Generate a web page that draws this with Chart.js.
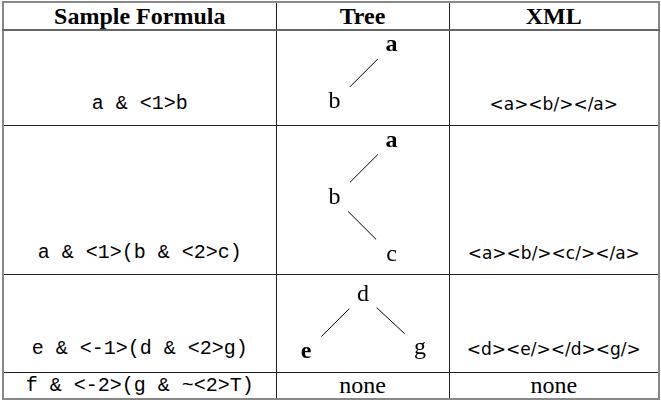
<!DOCTYPE html>
<html>
<head>
<meta charset="utf-8">
<script src="https://cdn.jsdelivr.net/npm/chart.js@4.4.1/dist/chart.umd.min.js"></script>
<style>
    html, body { margin: 0; padding: 0; background: #fff; }
    body { width: 661px; height: 402px; position: relative; overflow: hidden; }
    table.formulas {
        position: absolute; left: 2px; top: 1px;
        border-collapse: collapse; table-layout: fixed;
        border: 2px solid #888;
    }
    table.formulas td, table.formulas th {
        padding: 0; border: 1px solid #222; text-align: center; position: relative;
    }
    table.formulas th {
        font: bold 24px "Liberation Serif", "Times New Roman", serif;
        height: 26px; line-height: 26px; border-bottom: 2px solid #666; vertical-align: middle;
    }
    table.formulas tr:nth-child(2) { height: 95px; }
    table.formulas tr:nth-child(3) { height: 149px; }
    table.formulas tr:nth-child(4) { height: 98px; }
    table.formulas tr:nth-child(5) { height: 27px; }
    table.formulas td.formula { font: 20px "Liberation Mono", monospace; white-space: pre; }
    table.formulas td.xml { font: 17px "DejaVu Sans", sans-serif; white-space: pre; }
    table.formulas td.bottom { vertical-align: bottom; padding-bottom: 11px; line-height: 20px; }
    table.formulas tr:nth-child(4) td.bottom { padding-bottom: 13px; }
    table.formulas td.none { font: 24px "Liberation Serif", serif; line-height: 24px; }
    table.formulas td.tree canvas { position: absolute; left: 0; top: 0; }
</style>
</head>
<body>
<table class="formulas" id="formulas"></table>
<script>
// Column headers
const headers = ['Sample Formula', 'Tree', 'XML'];

// One entry per table row
const formulas = ['a & <1>b', 'a & <1>(b & <2>c)', 'e & <-1>(d & <2>g)', 'f & <-2>(g & ~<2>T)'];
const xmlOutputs = ['<a><b/></a>', '<a><b/><c/></a>', '<d><e/></d><g/>', 'none'];

// Tree nodes: label, horizontal offset, depth, parent index (-1 = root), bold
const tree1Labels = ['a', 'b'];
const tree1X = [0.5, -0.5];
const tree1Depth = [0, 1];
const tree1Parent = [-1, 0];
const tree1Bold = [true, false];

const tree2Labels = ['a', 'b', 'c'];
const tree2X = [0.5, -0.5, 0.5];
const tree2Depth = [0, 1, 2];
const tree2Parent = [-1, 0, 1];
const tree2Bold = [true, false, false];

const tree3Labels = ['d', 'e', 'g'];
const tree3X = [0, -1, 1];
const tree3Depth = [0, 1, 0.93];
const tree3Parent = [-1, 0, 0];
const tree3Bold = [false, true, false];

const trees = [
    { labels: tree1Labels, x: tree1X, depth: tree1Depth, parent: tree1Parent, bold: tree1Bold, top: -0.25 },
    { labels: tree2Labels, x: tree2X, depth: tree2Depth, parent: tree2Parent, bold: tree2Bold, top: -0.26 },
    { labels: tree3Labels, x: tree3X, depth: tree3Depth, parent: tree3Parent, bold: tree3Bold, top: -0.35 },
    null
];

const colWidths = [273, 173, 210];
const unit = 57;      // pixels per tree level
const edgeStart = 0.24, edgeEnd = 0.73;

// Build table
const esc = s => s.replace(/&/g, '&amp;').replace(/</g, '&lt;').replace(/>/g, '&gt;');
const table = document.getElementById('formulas');
let html = '<colgroup>' + colWidths.map(w => `<col style="width:${w}px">`).join('') + '</colgroup>';
html += '<tr>' + headers.map(h => `<th>${h}</th>`).join('') + '</tr>';
formulas.forEach((f, i) => {
    const last = !trees[i];
    html += '<tr>';
    html += `<td class="formula ${last ? '' : 'bottom'}">${esc(f)}</td>`;
    html += last ? '<td class="none">none</td>' : `<td class="tree"><canvas id="tree-${i}"></canvas></td>`;
    html += last ? `<td class="none">${esc(xmlOutputs[i])}</td>` : `<td class="xml bottom">${esc(xmlOutputs[i])}</td>`;
    html += '</tr>';
});
table.innerHTML = html;

const nodeLabelPlugin = {
    id: 'nodeLabels',
    afterDatasetsDraw(chart) {
        const tree = chart.options.plugins.nodeLabels.tree;
        const meta = chart.getDatasetMeta(0);
        const ctx = chart.ctx;
        ctx.save();
        ctx.fillStyle = '#000';
        ctx.textAlign = 'center';
        ctx.textBaseline = 'alphabetic';
        meta.data.forEach((pt, i) => {
            ctx.font = (tree.bold[i] ? 'bold ' : '') + '24px "Liberation Serif", serif';
            ctx.fillText(tree.labels[i], pt.x, pt.y + 6);
        });
        ctx.restore();
    }
};

function drawTree(i) {
    const tree = trees[i];
    const canvas = document.getElementById('tree-' + i);
    const cell = canvas.parentElement;
    const w = cell.clientWidth, h = cell.clientHeight;
    canvas.width = w;
    canvas.height = h;

    const nodes = tree.labels.map((_, k) => ({ x: tree.x[k], y: tree.depth[k] }));
    const datasets = [{
        data: nodes,
        pointRadius: 0,
        showLine: false
    }];
    tree.parent.forEach((p, k) => {
        if (p < 0) return;
        const a = nodes[p], b = nodes[k];
        const lerp = t => ({ x: a.x + (b.x - a.x) * t, y: a.y + (b.y - a.y) * t });
        datasets.push({
            data: [lerp(edgeStart), lerp(edgeEnd)],
            showLine: true,
            borderColor: '#000',
            borderWidth: 1,
            pointRadius: 0
        });
    });

    new Chart(canvas.getContext('2d'), {
        type: 'scatter',
        data: { datasets: datasets },
        options: {
            responsive: false,
            animation: false,
            devicePixelRatio: 1,
            layout: { padding: 0 },
            scales: {
                x: { type: 'linear', display: false, min: -w / 2 / unit, max: w / 2 / unit },
                y: { type: 'linear', display: false, reverse: true, min: tree.top, max: tree.top + h / unit }
            },
            plugins: {
                legend: { display: false },
                tooltip: { enabled: false },
                nodeLabels: { tree: tree }
            }
        },
        plugins: [nodeLabelPlugin]
    });
}

trees.forEach((t, i) => { if (t) drawTree(i); });
</script>
</body>
</html>
